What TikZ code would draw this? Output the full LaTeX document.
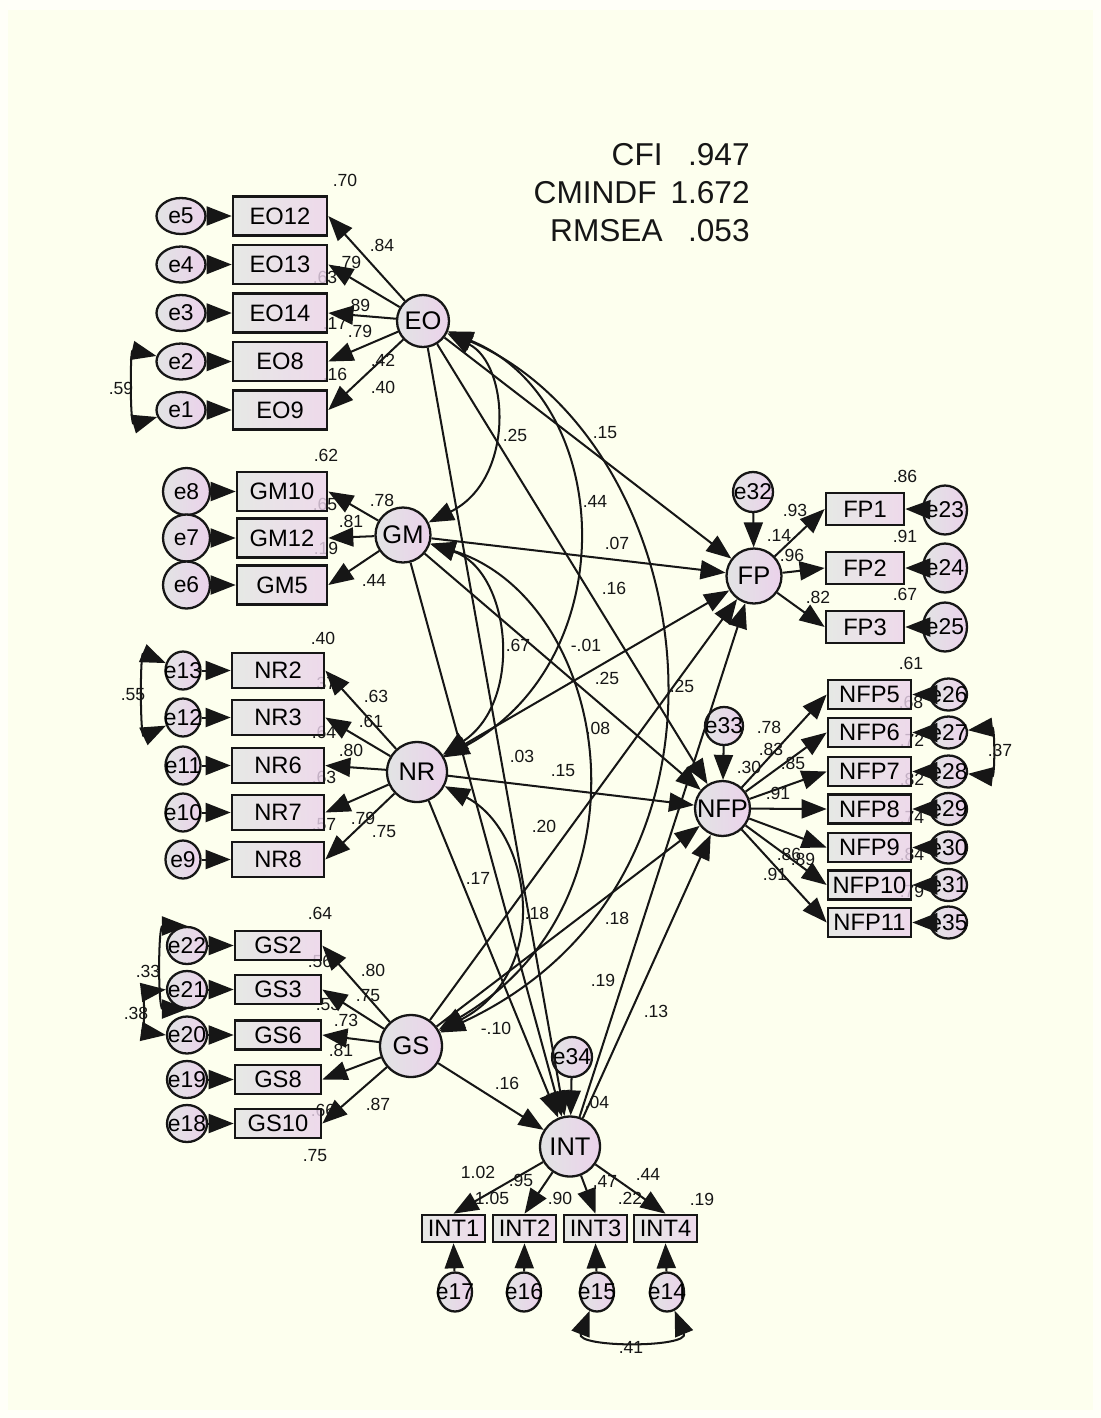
\documentclass[tikz,border=0pt]{standalone}
\usepackage{fontspec}
\setmainfont{Liberation Sans}
\usetikzlibrary{arrows.meta,shapes.geometric}

\definecolor{paper}{RGB}{253,255,238}
\definecolor{paperrim}{RGB}{255,255,248}
\definecolor{shadeL}{RGB}{226,228,228}
\definecolor{shadeR}{RGB}{235,210,235}
\definecolor{ink}{RGB}{22,22,22}

% zero-width text so the label never enlarges a round node
\newcommand{\ctr}[1]{\makebox[0pt][c]{#1}}

\tikzset{
  bighead/.tip={Triangle[length=0.5cm,width=0.38cm]},
  obsbox/.style={rectangle, draw=ink, line width=1.5pt, left color=shadeL, right color=shadeR,
    fill opacity=0.82, text opacity=1, inner sep=0pt, font=\fontsize{13.5}{15}\selectfont},
  lv/.style={circle, draw=ink, line width=1.3pt, left color=shadeL, right color=shadeR,
    inner sep=0pt, font=\fontsize{14.5}{16}\selectfont},
  ev/.style={ellipse, draw=ink, line width=1.3pt, left color=shadeL, right color=shadeR,
    inner sep=0pt, font=\fontsize{13}{15}\selectfont},
  eobox/.style={obsbox, minimum width=1.88cm, minimum height=0.78cm},
  gmbox/.style={obsbox, minimum width=1.80cm, minimum height=0.78cm},
  nrbox/.style={obsbox, minimum width=1.84cm, minimum height=0.70cm},
  gsbox/.style={obsbox, minimum width=1.72cm, minimum height=0.58cm},
  intbox/.style={obsbox, minimum width=1.26cm, minimum height=0.54cm},
  fpbox/.style={obsbox, minimum width=1.56cm, minimum height=0.64cm},
  nfpbox/.style={obsbox, minimum width=1.66cm, minimum height=0.58cm},
  eoerr/.style={ev, minimum width=0.98cm, minimum height=0.72cm},
  gmerr/.style={ev, minimum width=0.94cm, minimum height=0.94cm},
  nrerr/.style={ev, minimum width=0.70cm, minimum height=0.76cm},
  gserr/.style={ev, minimum width=0.80cm, minimum height=0.74cm},
  interr/.style={ev, minimum width=0.68cm, minimum height=0.78cm},
  fperr/.style={ev, minimum width=0.88cm, minimum height=0.98cm},
  nfperr/.style={ev, minimum width=0.74cm, minimum height=0.64cm},
  coef/.style={font=\fontsize{10}{11}\selectfont, text=ink, inner sep=0pt},
  fitstat/.style={font=\fontsize{18}{20}\selectfont, text=ink, inner sep=0pt, anchor=east},
  reg/.style={line width=1.15pt, draw=ink, -{bighead}},
  cov/.style={line width=1.15pt, draw=ink, {bighead}-{bighead}},
}

\begin{document}
\begin{tikzpicture}[x=0.02cm, y=-0.02cm]
\useasboundingbox (0,0) rectangle (1101,1418);
\fill[paperrim] (0,0) rectangle (1101,1418);
\fill[paper] (8,10) rectangle (1093,1410);

% ---------- fit indices ----------
\node[fitstat] (cfik) at (663,155) {CFI};
\node[fitstat] (cfiv) at (750,155) {.947};
\node[fitstat] (cmk)  at (657,193) {CMINDF};
\node[fitstat] (cmv)  at (750,193) {1.672};
\node[fitstat] (rmk)  at (663,231) {RMSEA};
\node[fitstat] (rmv)  at (750,231) {.053};

% ---------- estimates (set first, so boxes veil the ones they overlap) ----------
\foreach \t/\x/\y [count=\i] in {
  .70/345/180, .84/382/245, .79/349/262, .63/325/277, .89/358/305, .17/335/323,
  .79/360/331, .42/383/360, .16/335/374, .40/383/387, .59/121/388,
  .62/326/455, .78/382/500, .65/325/504, .81/351/521, .19/326/548, .44/374/580,
  .40/323/638, .37/324/683, .63/376/696, .61/371/721, .64/324/732, .80/351/750,
  .63/324/777, .79/363/818, .57/324/825, .75/384/832, .55/133/695,
  .64/320/913, .56/320/961, .80/373/970, .75/368/996, .53/328/1004, .73/346/1020,
  .81/341/1050, .66/323/1110, .87/378/1104, .75/315/1156, .33/148/971, .38/136/1013,
  1.02/478/1172, .95/521/1180, 1.05/492/1198, .90/560/1198, .47/605/1181,
  .44/648/1174, .22/630/1198, .19/702/1199, .04/597/1102, .16/507/1083, .41/631/1347,
  .86/905/476, .93/795/510, .14/779/535, .91/905/536, .96/792/555, .82/818/597,
  .67/905/594, .61/911/663,
  .68/911/702, .78/769/727, .72/912/740, .83/771/749, .85/793/763, .37/1000/750,
  .30/749/767, .82/912/779, .91/778/793, .74/912/817, .84/912/854, .86/789/854,
  .89/803/859, .91/775/874, .79/912/891,
  .25/515/435, .15/605/433, .44/595/501, .07/617/543, .16/614/588, .67/518/645,
  -.01/586/645, .25/607/678, .25/682/686,
  .08/598/728, .03/522/756, .15/563/771, .20/544/826, .17/478/878, .18/537/913,
  .18/617/918, .19/603/980, .13/656/1011, -.10/496/1028}
  \node[coef] (est\i) at (\x,\y) {\t};

% ---------- latent variables ----------
\node[lv, minimum size=1.04cm] (eo)  at (423,321)    {\ctr{EO}};
\node[lv, minimum size=1.10cm] (gm)  at (403,535)    {\ctr{GM}};
\node[lv, minimum size=1.20cm] (nr)  at (417,772)    {\ctr{NR}};
\node[lv, minimum size=1.24cm] (gs)  at (411,1046)   {\ctr{GS}};
\node[lv, minimum size=1.20cm] (int) at (570,1146.5) {\ctr{INT}};
\node[lv, minimum size=1.10cm] (fp)  at (754,576)    {\ctr{FP}};
\node[lv, minimum size=1.10cm] (nfp) at (722.5,808.5){\ctr{NFP}};

% structural disturbances
\node[ev, minimum width=0.80cm, minimum height=0.80cm] (e32) at (753,492)  {\ctr{e32}};
\node[ev, minimum width=0.76cm, minimum height=0.76cm] (e33) at (724,726)  {\ctr{e33}};
\node[ev, minimum width=0.80cm, minimum height=0.80cm] (e34) at (572,1057) {\ctr{e34}};

% ---------- EO block ----------
\node[eobox] (eo12) at (280,216)   {EO12};
\node[eobox] (eo13) at (280,264.5) {EO13};
\node[eobox] (eo14) at (280,313)   {EO14};
\node[eobox] (eo8)  at (280,361.5) {EO8};
\node[eobox] (eo9)  at (280,410)   {EO9};
\node[eoerr] (e5) at (181,216)   {\ctr{e5}};
\node[eoerr] (e4) at (181,264.5) {\ctr{e4}};
\node[eoerr] (e3) at (181,313)   {\ctr{e3}};
\node[eoerr] (e2) at (181,361.5) {\ctr{e2}};
\node[eoerr] (e1) at (181,410)   {\ctr{e1}};

% ---------- GM block ----------
\node[gmbox] (gm10) at (282,491.5) {GM10};
\node[gmbox] (gm12) at (282,538)   {GM12};
\node[gmbox] (gm5)  at (282,585)   {GM5};
\node[gmerr] (e8) at (186.5,491.5) {\ctr{e8}};
\node[gmerr] (e7) at (186.5,538)   {\ctr{e7}};
\node[gmerr] (e6) at (186.5,585)   {\ctr{e6}};

% ---------- NR block ----------
\node[nrbox] (nr2) at (278,670.5) {NR2};
\node[nrbox] (nr3) at (278,717.5) {NR3};
\node[nrbox] (nr6) at (278,765.5) {NR6};
\node[nrbox] (nr7) at (278,812.5) {NR7};
\node[nrbox] (nr8) at (278,859.5) {NR8};
\node[nrerr] (e13) at (183,670.5) {\ctr{e13}};
\node[nrerr] (e12) at (183,717.5) {\ctr{e12}};
\node[nrerr] (e11) at (183,765.5) {\ctr{e11}};
\node[nrerr] (e10) at (183,812.5) {\ctr{e10}};
\node[nrerr] (e9)  at (183,859.5) {\ctr{e9}};

% ---------- GS block ----------
\node[gsbox] (gs2)  at (278,945.5)  {GS2};
\node[gsbox] (gs3)  at (278,989.5)  {GS3};
\node[gsbox] (gs6)  at (278,1035)   {GS6};
\node[gsbox] (gs8)  at (278,1079.5) {GS8};
\node[gsbox] (gs10) at (278,1123.5) {GS10};
\node[gserr] (e22) at (187,945.5)  {\ctr{e22}};
\node[gserr] (e21) at (187,989.5)  {\ctr{e21}};
\node[gserr] (e20) at (187,1035)   {\ctr{e20}};
\node[gserr] (e19) at (187,1079.5) {\ctr{e19}};
\node[gserr] (e18) at (187,1123.5) {\ctr{e18}};

% ---------- INT block ----------
\node[intbox] (int1) at (453.5,1228.5) {INT1};
\node[intbox] (int2) at (524.5,1228.5) {INT2};
\node[intbox] (int3) at (595.5,1228.5) {INT3};
\node[intbox] (int4) at (665.5,1228.5) {INT4};
\node[interr] (e17) at (455,1292) {\ctr{e17}};
\node[interr] (e16) at (524,1292) {\ctr{e16}};
\node[interr] (e15) at (597,1292) {\ctr{e15}};
\node[interr] (e14) at (667,1292) {\ctr{e14}};

% ---------- FP block ----------
\node[fpbox] (fp1) at (865,509) {FP1};
\node[fpbox] (fp2) at (865,568) {FP2};
\node[fpbox] (fp3) at (865,627) {FP3};
\node[fperr] (e23) at (945,510) {\ctr{e23}};
\node[fperr] (e24) at (945,568) {\ctr{e24}};
\node[fperr] (e25) at (945,627) {\ctr{e25}};

% ---------- NFP block ----------
\node[nfpbox] (nfp5)  at (869.5,694.5) {NFP5};
\node[nfpbox] (nfp6)  at (869.5,732.5) {NFP6};
\node[nfpbox] (nfp7)  at (869.5,771.5) {NFP7};
\node[nfpbox] (nfp8)  at (869.5,809)   {NFP8};
\node[nfpbox] (nfp9)  at (869.5,847.5) {NFP9};
\node[nfpbox] (nfp10) at (869.5,885)   {NFP10};
\node[nfpbox] (nfp11) at (869.5,922.5) {NFP11};
\node[nfperr] (e26) at (948.5,694.5) {\ctr{e26}};
\node[nfperr] (e27) at (948.5,732.5) {\ctr{e27}};
\node[nfperr] (e28) at (948.5,771.5) {\ctr{e28}};
\node[nfperr] (e29) at (948.5,809)   {\ctr{e29}};
\node[nfperr] (e30) at (948.5,847.5) {\ctr{e30}};
\node[nfperr] (e31) at (948.5,885)   {\ctr{e31}};
\node[nfperr] (e35) at (948.5,922.5) {\ctr{e35}};

% ---------- loadings ----------
\foreach \b in {eo12,eo13,eo14,eo8,eo9} \draw[reg] (eo) -- (\b.east);
\foreach \b in {gm10,gm12,gm5} \draw[reg] (gm) -- (\b.east);
\foreach \b in {nr2,nr3,nr6,nr7,nr8} \draw[reg] (nr) -- (\b.east);
\foreach \b in {gs2,gs3,gs6,gs8,gs10} \draw[reg] (gs) -- (\b.east);
\foreach \b in {int1,int2,int3,int4} \draw[reg] (int) -- (\b.north);
\foreach \b in {fp1,fp2,fp3} \draw[reg] (fp) -- (\b.west);
\foreach \b in {nfp5,nfp6,nfp7,nfp8,nfp9,nfp10,nfp11} \draw[reg] (nfp) -- (\b.west);

% ---------- measurement errors ----------
\foreach \e/\b in {e5/eo12,e4/eo13,e3/eo14,e2/eo8,e1/eo9,e8/gm10,e7/gm12,e6/gm5,
  e13/nr2,e12/nr3,e11/nr6,e10/nr7,e9/nr8,e22/gs2,e21/gs3,e20/gs6,e19/gs8,e18/gs10}
  \draw[reg] (\e) -- (\b.west);
\foreach \e/\b in {e17/int1,e16/int2,e15/int3,e14/int4} \draw[reg] (\e) -- (\b.south);
\foreach \e/\b in {e23/fp1,e24/fp2,e25/fp3,e26/nfp5,e27/nfp6,e28/nfp7,e29/nfp8,
  e30/nfp9,e31/nfp10,e35/nfp11} \draw[reg] (\e) -- (\b.east);
\draw[reg] (e32) -- (fp);
\draw[reg] (e33) -- (nfp);
\draw[reg] (e34) -- (int);

% ---------- structural paths ----------
\foreach \s in {eo,gm,nr,gs} {
  \draw[reg] (\s) -- (fp);
  \draw[reg] (\s) -- (nfp);
  \draw[reg] (\s) -- (int);
}
\draw[reg] (int) -- (fp);
\draw[reg] (int) -- (nfp);

% ---------- covariances among exogenous factors ----------
\draw[cov] (eo) .. controls (510,365) and (515,480) .. (gm);
\draw[cov] (eo) .. controls (615,400) and (625,660) .. (nr);
\draw[cov] (eo) .. controls (700,440) and (770,880) .. (gs);
\draw[cov] (gm) .. controls (510,570) and (525,700) .. (nr);
\draw[cov] (gm) .. controls (610,600) and (660,900) .. (gs);
\draw[cov] (nr) .. controls (530,830) and (555,970) .. (gs);

% ---------- correlated errors ----------
\draw[cov] (e2) .. controls (130,350) and (130,425) .. (e1);
\draw[cov] (e13) .. controls (140,652) and (140,738) .. (e12);
\draw[cov] (e22.north) .. controls (158,926) and (158,1009) .. (e21.south);
\draw[cov] (e21.west) .. controls (145,992) and (145,1032) .. (e20.west);
\draw[cov] (e15) .. controls (575,1348) and (690,1348) .. (e14);
\draw[cov] (e27) .. controls (995,727) and (995,777) .. (e28);
\end{tikzpicture}
\end{document}
